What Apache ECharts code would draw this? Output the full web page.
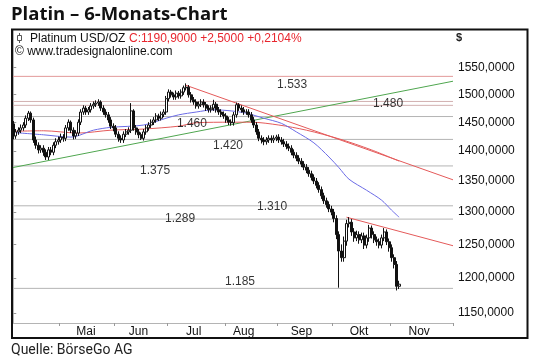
<!DOCTYPE html>
<html><head><meta charset="utf-8">
<script src="https://cdn.jsdelivr.net/npm/echarts@6/dist/echarts.min.js"></script>
<style>html,body{margin:0;padding:0;background:#fff}#c{width:540px;height:362px}</style>
</head><body><div id="c"></div>
<script>
// ---- data ----
const monthNames = ['Apr','Mai','Jun','Jul','Aug','Sep','Okt','Nov','Dez'];
const monthShown = [false,true,true,true,true,true,true,true,false];
const tradingDays = [19,22,21,23,21,22,23,20,5];
const yTickValues = [1150,1200,1250,1300,1350,1400,1450,1500,1550];

const opens = [1447,1426,1433,1436,1440,1445,1457,1466,1454,1419,1410,1402,1405,1398,1390,1402,1398,1410,1416,1419,
1424,1422,1440,1450,1436,1426,1431,1450,1468,1475,1468,1472,1479,1482,1484,1486,1475,1468,1463,1454,
1443,1440,1429,1422,1419,1429,1433,1436,1470,1440,1433,1428,1422,1433,1440,1445,1450,1454,1461,1457,
1464,1468,1492,1504,1499,1495,1502,1497,1504,1512,1513,1499,1490,1486,1479,1482,1486,1481,1475,1472,
1475,1482,1472,1468,1464,1461,1454,1450,1449,1463,1481,1475,1472,1468,1468,1463,1454,1445,1433,1422,
1419,1416,1419,1422,1419,1422,1424,1419,1416,1412,1408,1405,1398,1393,1388,1383,1378,1373,1368,1362,
1356,1350,1343,1336,1326,1318,1312,1305,1300,1290,1265,1240,1230,1255,1282,1284,1269,1260,1265,1257,
1263,1249,1260,1275,1265,1257,1254,1249,1260,1269,1254,1245,1230,1220,1188];
const closes = [1426,1433,1436,1440,1445,1457,1466,1454,1419,1410,1402,1405,1398,1390,1402,1398,1410,1416,1419,1424,
1422,1440,1450,1436,1426,1431,1450,1468,1475,1468,1472,1479,1482,1484,1486,1475,1468,1463,1454,1443,
1440,1429,1422,1419,1429,1433,1436,1470,1440,1433,1428,1422,1433,1440,1445,1450,1454,1461,1457,1464,
1468,1492,1504,1499,1495,1502,1497,1504,1512,1513,1499,1490,1486,1479,1482,1486,1481,1475,1472,1475,
1482,1472,1468,1464,1461,1454,1450,1449,1463,1481,1475,1472,1468,1468,1463,1454,1445,1433,1422,1419,
1416,1419,1422,1419,1422,1424,1419,1416,1412,1408,1405,1398,1393,1388,1383,1378,1373,1368,1362,1356,
1350,1343,1336,1326,1318,1312,1305,1300,1290,1265,1240,1230,1255,1282,1284,1269,1260,1265,1257,1263,
1249,1260,1275,1265,1257,1254,1249,1260,1269,1254,1245,1230,1220,1188,1191];
const highs = [1452,1438,1441,1446,1450,1462,1470,1469,1458,1425,1415,1410,1410,1403,1407,1407,1415,1422,1425,1430,
1429,1445,1455,1453,1441,1436,1455,1473,1480,1479,1477,1484,1487,1489,1491,1489,1480,1473,1468,1459,
1448,1445,1434,1427,1434,1438,1441,1484,1473,1445,1438,1432,1438,1445,1450,1455,1459,1466,1465,1469,
1473,1497,1509,1508,1503,1507,1506,1509,1516,1520,1517,1504,1495,1491,1487,1491,1491,1486,1480,1480,
1490,1486,1477,1473,1469,1466,1459,1455,1468,1485,1484,1480,1477,1473,1473,1468,1459,1450,1438,1427,
1424,1424,1427,1427,1427,1428,1429,1424,1421,1417,1413,1410,1403,1398,1393,1388,1383,1378,1373,1367,
1361,1355,1348,1341,1331,1323,1317,1310,1305,1295,1270,1250,1262,1288,1292,1289,1275,1271,1270,1268,
1268,1265,1280,1279,1270,1262,1259,1265,1275,1273,1259,1250,1235,1225,1196];
const lows = [1420,1421,1428,1431,1435,1440,1452,1449,1414,1404,1396,1397,1392,1385,1385,1393,1393,1405,1411,1414,
1416,1417,1435,1431,1420,1421,1426,1445,1463,1463,1463,1467,1474,1477,1479,1470,1463,1458,1449,1438,
1434,1424,1416,1414,1414,1424,1428,1431,1435,1428,1422,1419,1418,1428,1435,1440,1445,1449,1452,1453,
1459,1463,1487,1494,1490,1490,1492,1492,1499,1507,1494,1485,1481,1474,1474,1477,1476,1470,1467,1467,
1470,1467,1463,1459,1456,1449,1445,1444,1444,1458,1470,1467,1463,1463,1458,1449,1440,1428,1417,1413,
1410,1411,1414,1414,1414,1417,1414,1411,1407,1403,1400,1393,1388,1383,1378,1373,1368,1363,1357,1351,
1345,1338,1331,1321,1313,1307,1300,1295,1284,1258,1186,1224,1224,1248,1276,1263,1254,1255,1251,1252,
1243,1244,1254,1259,1252,1248,1244,1244,1255,1249,1239,1224,1214,1182,1184];

// moving averages: [trading-day index, price]
const blueMA = [[0,1432],[12,1428],[23,1424],[32,1436],[39,1441],[52,1445],[61,1457],[66,1463],[73,1468],[80,1472],
[87,1470],[93,1466],[100,1457],[107,1448],[113,1433],[120,1414],[126,1390],[130,1372],[134,1353],[141,1335],[147,1319],[151,1303],[154,1292]];
const redMA = [[0,1434],[12,1435],[26,1431],[39,1436],[52,1438],[66,1443],[73,1449],[87,1450],[95,1450],[106,1445],[117,1436],[130,1421],[143,1402],[154,1383]];
// trend lines: [trading-day index, price]
const greenTrend = [[-0.5,1372],[175.5,1524]];
const redTrendA = [[68.6,1517],[175.5,1352]];
const redTrendB = [[133,1292],[175.5,1248]];
// horizontal support / resistance levels
const levels = [1533,1487,1480,1460,1420,1375,1310,1289,1185];
const levelTexts = ['1.533','','1.480','1.460','1.420','1.375','1.310','1.289','1.185'];

// ---- layout / style (not data) ----
const labelDayShift = [0,-1,-1,-1,-3,-2,-1,1,0];
const levelColors = ['#e29a9a','#d2b0b0','#d2b0b0','#b4b4b4','#b4b4b4','#b4b4b4','#b4b4b4','#b4b4b4','#b4b4b4'];
const levelTextX = [111.3,0,149.6,71.3,85.7,56.6,103.3,66.6,90.5];
const levelTextDy = [8,0,-2,7.5,6.6,5,1,0,-7];

const L = v => Math.log10(v);
const nCat = tradingDays.reduce((a,b)=>a+b,0);
const categories = [];
const tickIdx = new Set();
const labelIdx = new Set();
let start = 0;
tradingDays.forEach((n,m)=>{
  if (monthShown[m]) { tickIdx.add(start); labelIdx.add(start + Math.floor(n/2) + labelDayShift[m]); }
  for (let d=0; d<n; d++) categories.push(monthNames[m] + '-' + (d+1));
  start += n;
});

const FONT = "'Liberation Sans', Arial, sans-serif";
const chart = echarts.init(document.getElementById('c'), null, {renderer:'canvas'});

const series = [];
levels.forEach((lv,i)=>{
  series.push({type:'line', xAxisIndex:1, yAxisIndex:0, silent:true, symbol:'none', z:1,
    lineStyle:{color:levelColors[i], width:1}, data:[[-0.5,L(lv)],[nCat-0.5,L(lv)]]});
});
series.push({type:'line', xAxisIndex:1, symbol:'none', silent:true, z:2, lineStyle:{color:'#4fa64f', width:1},
  data: greenTrend.map(p=>[p[0],L(p[1])])});
series.push({type:'line', xAxisIndex:1, symbol:'none', silent:true, z:2, lineStyle:{color:'#e45a5a', width:1},
  data: redTrendA.map(p=>[p[0],L(p[1])])});
series.push({type:'line', xAxisIndex:1, symbol:'none', silent:true, z:2, lineStyle:{color:'#e45a5a', width:1},
  data: redTrendB.map(p=>[p[0],L(p[1])])});
series.push({type:'line', xAxisIndex:1, symbol:'none', silent:true, z:3, smooth:0.3, lineStyle:{color:'#e45a5a', width:1},
  data: redMA.map(p=>[p[0],L(p[1])])});
series.push({type:'line', xAxisIndex:1, symbol:'none', silent:true, z:3, smooth:0.3, lineStyle:{color:'#6b6be6', width:1},
  data: blueMA.map(p=>[p[0],L(p[1])])});
series.push({type:'candlestick', xAxisIndex:0, yAxisIndex:0, z:4, barWidth:2.5,
  itemStyle:{color:'#ffffff', color0:'#111111', borderColor:'#111111', borderColor0:'#111111', borderWidth:1},
  data: closes.map((c,i)=>[L(opens[i]), L(c), L(lows[i]), L(highs[i])])});
series.push({type:'scatter', xAxisIndex:1, z:6, symbolSize:1, itemStyle:{color:'rgba(0,0,0,0)'}, silent:true,
  data: levels.map((lv,i)=>({value:[levelTextX[i], L(lv)],
    label:{show: levelTexts[i] !== '', formatter: levelTexts[i], position:'inside', offset:[0, levelTextDy[i]],
      color:'#000', fontSize:12, fontFamily:FONT}}))});

chart.setOption({
  animation:false,
  grid:{left:12, top:30, right:87, bottom:39, containLabel:false},
  xAxis:[{
    type:'category', data:categories, boundaryGap:true,
    axisLine:{show:true, lineStyle:{color:'#b4b4b4', width:1}},
    axisTick:{show:true, length:3, interval:(idx)=>tickIdx.has(idx), lineStyle:{color:'#999'}},
    axisLabel:{show:true, interval:(idx)=>labelIdx.has(idx), formatter:v=>v.split('-')[0],
      margin:3, fontSize:12, color:'#111', fontFamily:FONT},
    splitLine:{show:false}
  },{
    type:'value', min:-0.5, max:nCat-0.5, show:false
  }],
  yAxis:[{
    type:'value', position:'right', scale:true,
    min:L(1136.2), max:L(1621.8),
    axisLine:{show:true, lineStyle:{color:'#b4b4b4', width:1}},
    axisTick:{show:true, length:3, customValues: yTickValues.map(L), lineStyle:{color:'#999'}},
    axisLabel:{show:true, customValues: yTickValues.map(L), margin:5, fontSize:12, color:'#111', fontFamily:FONT,
      formatter: v => Math.round(Math.pow(10, v)) + ',0000'},
    splitLine:{show:false}
  }],
  series: series,
  graphic:[
    {type:'text', left:11, top:5, style:{text:'Platin – 6-Monats-Chart', font:"bold 18.5px 'Open Sans', sans-serif", fill:'#111'}},
    {type:'rect', shape:{x:12, y:29.5, width:515.5, height:308.5}, style:{fill:'none', stroke:'#111', lineWidth:2}, z:100},
    {type:'line', shape:{x1:19.5, y1:33, x2:19.5, y2:43}, style:{stroke:'#555', lineWidth:1}, z:100},
    {type:'rect', shape:{x:17.5, y:35.5, width:4, height:5}, style:{fill:'#fff', stroke:'#555', lineWidth:1}, z:101},
    {type:'text', x:30, y:38.5, style:{text:'Platinum USD/OZ', font:"12px 'Liberation Sans', Arial, sans-serif", fill:'#111', verticalAlign:'middle'}, z:100},
    {type:'text', x:129, y:38.5, style:{text:'C:1190,9000 +2,5000 +0,2104%', font:"12px 'Liberation Sans', Arial, sans-serif", fill:'#e8262e', verticalAlign:'middle'}, z:100},
    {type:'text', x:15, y:51.5, style:{text:'© www.tradesignalonline.com', font:"12px 'Liberation Sans', Arial, sans-serif", fill:'#111', verticalAlign:'middle'}, z:100},
    {type:'text', x:456, y:38, style:{text:'$', font:"bold 11px 'Liberation Sans', Arial, sans-serif", fill:'#222', verticalAlign:'middle'}, z:100},
    {type:'text', x:11, y:350, style:{text:'Quelle: BörseGo AG', font:"14px Roboto, sans-serif", fill:'#222', verticalAlign:'middle'}, z:100}
  ]
});
</script></body></html>
